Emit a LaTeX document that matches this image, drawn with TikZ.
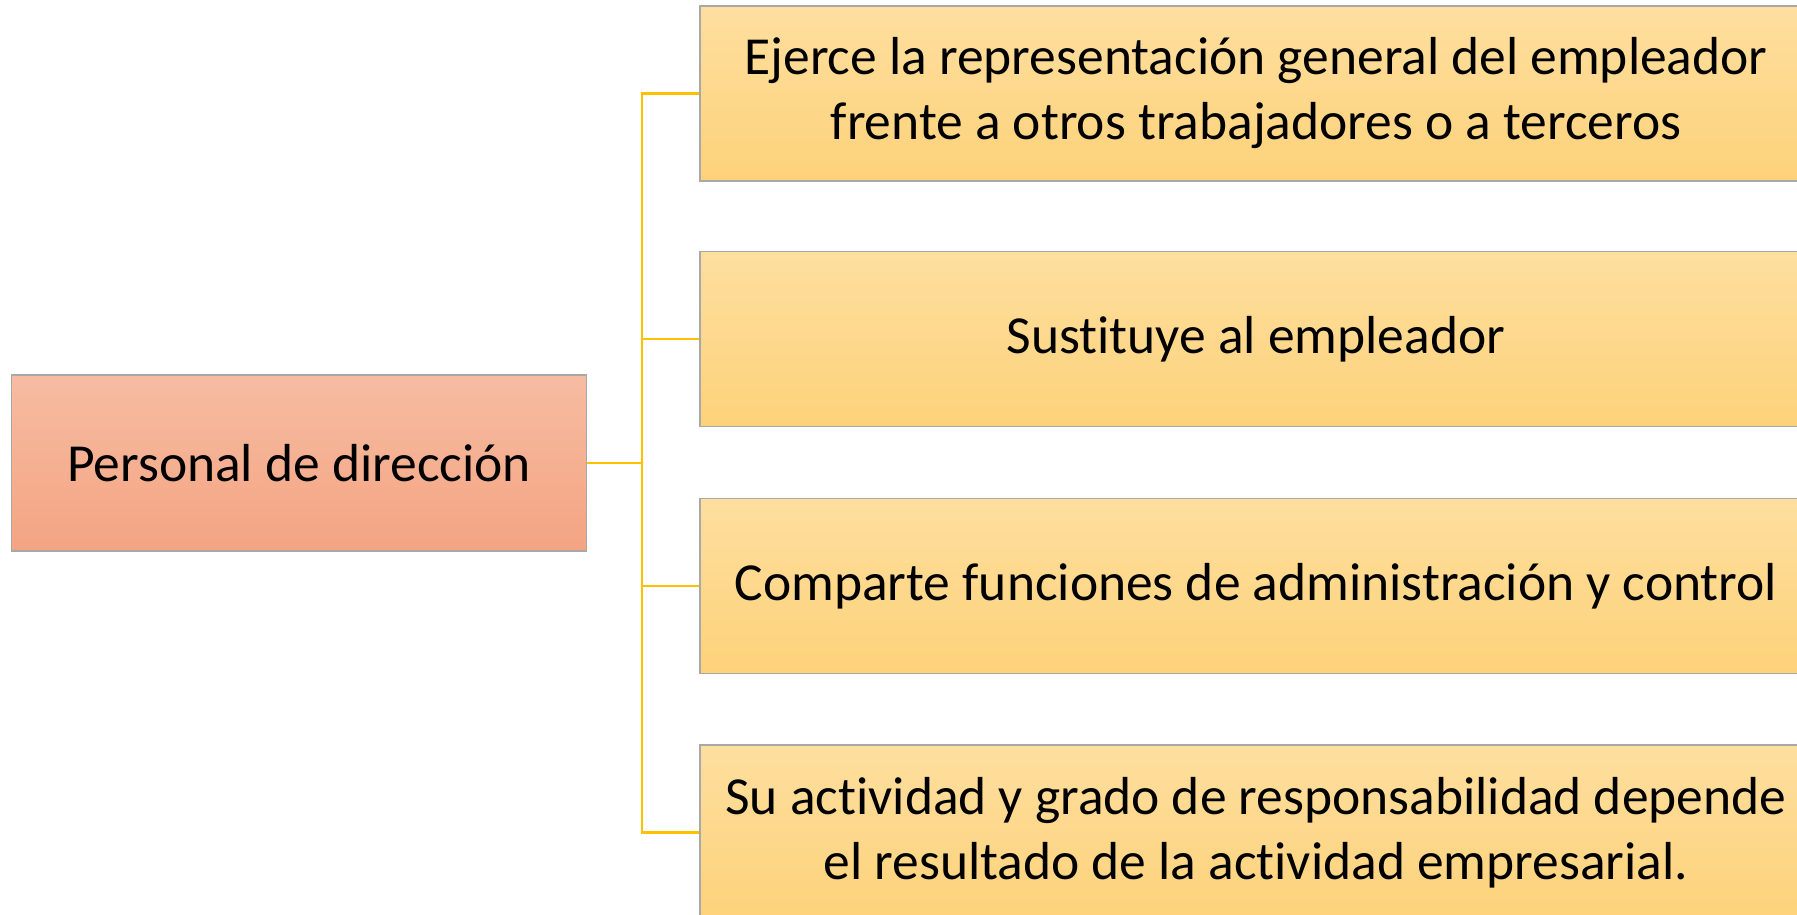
\documentclass[tikz,border=0pt]{standalone}
\usepackage{fontspec}
\setmainfont[Ligatures=NoCommon]{Carlito}
\usetikzlibrary{positioning}
\definecolor{lineGold}{HTML}{FFC000}
\definecolor{salTop}{HTML}{F6BCA2}
\definecolor{salBot}{HTML}{F4A482}
\definecolor{yelTop}{HTML}{FEDF9F}
\definecolor{yelBot}{HTML}{FDD27A}
\definecolor{edgeGray}{HTML}{A8A8A8}
\begin{document}
\begin{tikzpicture}[x=1pt,y=-1pt,
  boxbase/.style={rectangle, draw=edgeGray, line width=1.8pt, align=center,
    font=\fontsize{53.5}{65}\selectfont, inner sep=0pt},
  leftbox/.style={boxbase, top color=salTop, bottom color=salBot,
    minimum width=575pt, minimum height=176pt},
  itembox/.style={boxbase, top color=yelTop, bottom color=yelBot,
    minimum width=1112pt, minimum height=175pt},
  link/.style={draw=lineGold, line width=2.5pt}]
\useasboundingbox (0,0) rectangle (1797,914);
\clip (0,0) rectangle (1797,914);
\node[leftbox] (L) at (299,463) {Personal de dirección};
\node[itembox] (b1) at (1256,93.5) {Ejerce la representación general del empleador\\frente a otros trabajadores o a terceros};
\node[itembox] (b2) at (1256,339) {Sustituye al empleador};
\node[itembox] (b3) at (1256,586) {Comparte funciones de administración y control};
\node[itembox] (b4) at (1256,832.5) {Su actividad y grado de responsabilidad depende\\el resultado de la actividad empresarial.};
\draw[link] (b1.west) -- ++(-57,0) coordinate (t1) |- (b4.west);
\draw[link] (b2.west) -- (b2.west -| t1);
\draw[link] (b3.west) -- (b3.west -| t1);
\draw[link] (L.east) -- (L.east -| t1);
\end{tikzpicture}
\end{document}
